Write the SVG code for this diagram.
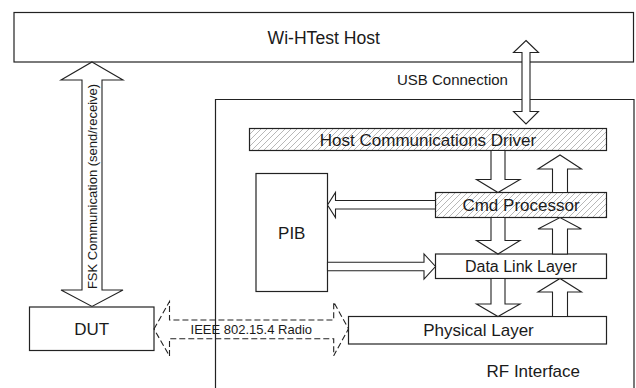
<svg xmlns="http://www.w3.org/2000/svg" width="636" height="388" viewBox="0 0 636 388">
  <defs>
    <!-- diagonal hatch fill for the driver / processor blocks -->
    <pattern id="hatch" patternUnits="userSpaceOnUse" width="6" height="6">
      <rect width="6" height="6" fill="#ffffff"/>
      <path d="M-1,1 L1,-1 M0,6 L6,0 M5,7 L7,5" stroke="#9a9a9a" stroke-width="0.7"/>
    </pattern>
    <style>
      .box { fill: #ffffff; stroke: #222222; stroke-width: 1.2; }
      .hatched { fill: url(#hatch); stroke: #222222; stroke-width: 1.2; }
      .frame { fill: none; stroke: #222222; stroke-width: 1.2; }
      .arrow { fill: #ffffff; stroke: #222222; stroke-width: 1.1; stroke-linejoin: miter; }
      .dashed { fill: none; stroke: #222222; stroke-width: 1.1; stroke-dasharray: 6 3; }
      .lbl { font-family: "Liberation Sans", Arial, sans-serif; fill: #1a1a1a; }
    </style>
  </defs>

  <!-- host node -->
  <g id="host">
    <rect class="box" x="14" y="12.5" width="619.5" height="49.5"/>
    <text class="lbl" x="323.75" y="43.8" font-size="17.6" text-anchor="middle">Wi-HTest Host</text>
  </g>

  <!-- RF interface enclosure (open at the bottom) -->
  <g id="rf-interface">
    <path class="frame" d="M215.5,388 V99.5 H634 V388"/>
    <text class="lbl" x="486.5" y="377.4" font-size="17">RF Interface</text>
  </g>

  <g id="host-driver">
    <rect class="hatched" x="249.5" y="128.5" width="357" height="22"/>
    <text class="lbl" x="428" y="145.6" font-size="17" text-anchor="middle">Host Communications Driver</text>
  </g>

  <g id="cmd-processor">
    <rect class="hatched" x="435.5" y="192.5" width="171" height="25"/>
    <text class="lbl" x="521" y="211.1" font-size="17" text-anchor="middle">Cmd Processor</text>
  </g>

  <g id="data-link">
    <rect class="box" x="435.5" y="254" width="171" height="24.5"/>
    <text class="lbl" x="521" y="272" font-size="16" text-anchor="middle">Data Link Layer</text>
  </g>

  <g id="physical">
    <rect class="box" x="348.5" y="316.5" width="258" height="27.5"/>
    <text class="lbl" x="478.5" y="336.4" font-size="17" text-anchor="middle">Physical Layer</text>
  </g>

  <g id="pib">
    <rect class="box" x="256" y="173.5" width="71.5" height="118"/>
    <text class="lbl" x="291.75" y="238.6" font-size="17" text-anchor="middle">PIB</text>
  </g>

  <g id="dut">
    <rect class="box" x="29.5" y="307" width="124.5" height="43.5"/>
    <text class="lbl" x="91.75" y="334.9" font-size="17" text-anchor="middle">DUT</text>
  </g>

  <!-- block arrows between the nodes -->
  <g id="connectors">
    <!-- FSK link host <-> DUT -->
    <polygon class="arrow" points="92,62 123,80 102,80 102,290 123,290 92,306.5 61,290 82,290 82,80 61,80"/>
    <text class="lbl" font-size="13" text-anchor="middle" transform="translate(96.6,186.5) rotate(-90)">FSK Communication (send/receive)</text>

    <!-- USB link host <-> driver -->
    <polygon class="arrow" points="526,40.5 538.5,52.5 530,52.5 530,111.5 538.5,111.5 526,124 513.5,111.5 522,111.5 522,52.5 513.5,52.5"/>
    <text class="lbl" x="397" y="85.4" font-size="15">USB Connection</text>

    <!-- driver -> cmd processor -->
    <polygon class="arrow" points="491,150.5 505,150.5 505,179.5 520,179.5 498,192.5 476.5,179.5 491,179.5"/>
    <!-- cmd processor -> driver -->
    <polygon class="arrow" points="552.5,192.5 552.5,169 538,169 560,155 581.5,169 567.5,169 567.5,192.5"/>

    <!-- cmd processor -> data link -->
    <polygon class="arrow" points="491,217.5 505,217.5 505,240.5 520,240.5 498,254 476.5,240.5 491,240.5"/>
    <!-- data link -> cmd processor -->
    <polygon class="arrow" points="552.5,254 552.5,229 538,229 560,217.5 581.5,229 567.5,229 567.5,254"/>

    <!-- data link -> physical -->
    <polygon class="arrow" points="491,278.5 505,278.5 505,304 520,304 498,316.5 476.5,304 491,304"/>
    <!-- physical -> data link -->
    <polygon class="arrow" points="552.5,316.5 552.5,292 538,292 560,278.5 581.5,292 567.5,292 567.5,316.5"/>

    <!-- cmd processor -> PIB -->
    <polygon class="arrow" points="435.5,200.5 335.5,200.5 335.5,192.5 327.5,205 335.5,217.5 335.5,209 435.5,209"/>
    <!-- PIB -> data link -->
    <polygon class="arrow" points="327.5,262.3 424,262.3 424,254 435.5,266.5 424,279 424,270.7 327.5,270.7"/>

    <!-- radio link DUT <-> physical layer -->
    <polygon class="dashed" points="154,329 169.5,301.5 169.5,320 333.7,320 333.7,302 348.5,328.8 333.7,355.7 333.7,338.7 169.5,338.7 169.5,356"/>
    <text class="lbl" x="251.3" y="334.2" font-size="13" text-anchor="middle">IEEE 802.15.4 Radio</text>
  </g>
</svg>
